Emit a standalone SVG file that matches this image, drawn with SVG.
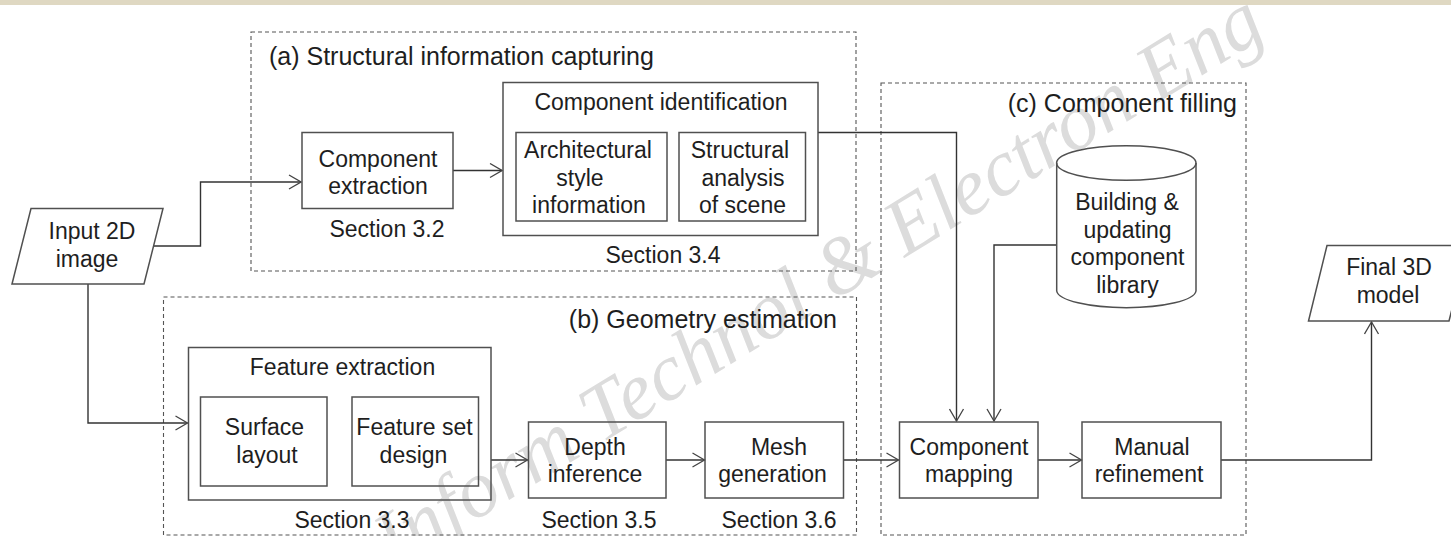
<svg xmlns="http://www.w3.org/2000/svg" width="1451" height="536" viewBox="0 0 1451 536">
<style>
text{font-family:"Liberation Sans",Arial,sans-serif;fill:#1e1e1e}
.t{font-size:23px;text-anchor:middle}
.ttl{font-size:25px}
.box{fill:none;stroke:#505050;stroke-width:1.5}
.grp{fill:none;stroke:#555;stroke-width:1.1;stroke-dasharray:4 3}
.con{fill:none;stroke:#333;stroke-width:1.4}
.wm{font-family:"Liberation Serif","Times New Roman",serif;font-style:italic;font-size:81px;fill:#dcdcdc}
</style>
<defs>
<marker id="arr" markerUnits="userSpaceOnUse" viewBox="0 0 14 16" refX="13" refY="8" markerWidth="14" markerHeight="16" orient="auto">
<path d="M1,1 L13,8 L1,15" fill="none" stroke="#444" stroke-width="1.3"/>
</marker>
</defs>
<rect x="0" y="0" width="1451" height="536" fill="#fff"/>
<rect x="0" y="0" width="1451" height="5" fill="#dfd8c2"/>
<text class="wm" transform="translate(395,570) rotate(-31.5)">Inform Technol &amp; Electron Eng</text>

<g id="group-a">
<rect class="grp" x="251" y="32" width="605" height="239"/>
<text class="ttl" x="269" y="64.5">(a) Structural information capturing</text>
</g>
<g id="group-b">
<rect class="grp" x="163.5" y="297" width="693" height="238"/>
<text class="ttl" x="837" y="328" text-anchor="end">(b) Geometry estimation</text>
</g>
<g id="group-c">
<rect class="grp" x="881" y="83" width="365" height="452"/>
<text class="ttl" x="1237" y="111.5" text-anchor="end">(c) Component filling</text>
</g>

<g id="connectors">
<path class="con" d="M153,246 H200.5 V182 H301" marker-end="url(#arr)"/>
<path class="con" d="M88,284 V423 H187.5" marker-end="url(#arr)"/>
<path class="con" d="M453,170.5 H502" marker-end="url(#arr)"/>
<path class="con" d="M818,132.5 H956.5 V421" marker-end="url(#arr)"/>
<path class="con" d="M491,460 H527.5" marker-end="url(#arr)"/>
<path class="con" d="M666,460 H704.5" marker-end="url(#arr)"/>
<path class="con" d="M843,460 H898.5" marker-end="url(#arr)"/>
<path class="con" d="M1057,245 H994 V421" marker-end="url(#arr)"/>
<path class="con" d="M1038,460 H1081.5" marker-end="url(#arr)"/>
<path class="con" d="M1221,460 H1371.5 V322" marker-end="url(#arr)"/>
</g>

<g id="input-2d-image">
<polygon class="box" points="31,208.5 163,208.5 144,284 12,284"/>
<text class="t" x="92" y="239">Input 2D</text>
<text class="t" x="87" y="266.5">image</text>
</g>

<g id="component-extraction">
<rect class="box" x="302" y="132.5" width="151" height="76"/>
<text class="t" x="378" y="166.5">Component</text>
<text class="t" x="378" y="194">extraction</text>
<text class="t" x="387" y="237">Section 3.2</text>
</g>

<g id="component-identification">
<rect class="box" x="503" y="82.5" width="315" height="153"/>
<text class="t" x="661" y="110">Component identification</text>
<text class="t" x="663" y="263">Section 3.4</text>
</g>
<g id="architectural-style-information">
<rect class="box" x="516" y="132.5" width="151" height="88.5"/>
<text class="t" x="588" y="158.3">Architectural</text>
<text class="t" x="580" y="186">style</text>
<text class="t" x="589" y="213.3">information</text>
</g>
<g id="structural-analysis-of-scene">
<rect class="box" x="679" y="132.5" width="126.5" height="88.5"/>
<text class="t" x="740" y="158.3">Structural</text>
<text class="t" x="743" y="186">analysis</text>
<text class="t" x="742.5" y="213.3">of scene</text>
</g>

<g id="feature-extraction">
<rect class="box" x="188.5" y="347.5" width="302.5" height="152.5"/>
<text class="t" x="342.5" y="375">Feature extraction</text>
<text class="t" x="352" y="528">Section 3.3</text>
</g>
<g id="surface-layout">
<rect class="box" x="200.5" y="397" width="126.5" height="89"/>
<text class="t" x="264.5" y="435">Surface</text>
<text class="t" x="267" y="462.5">layout</text>
</g>
<g id="feature-set-design">
<rect class="box" x="352" y="397" width="126.5" height="89"/>
<text class="t" x="414.5" y="435">Feature set</text>
<text class="t" x="413.5" y="462.5">design</text>
</g>

<g id="depth-inference">
<rect class="box" x="528.5" y="422" width="137.5" height="76"/>
<text class="t" x="595" y="454.5">Depth</text>
<text class="t" x="595" y="481.7">inference</text>
<text class="t" x="599" y="528">Section 3.5</text>
</g>

<g id="mesh-generation">
<rect class="box" x="705" y="422" width="138.5" height="76"/>
<text class="t" x="779" y="454.5">Mesh</text>
<text class="t" x="772.5" y="481.7">generation</text>
<text class="t" x="779" y="528">Section 3.6</text>
</g>

<g id="component-library">
<path class="box" d="M1056.7,163 V291 A69.7,17.3 0 0 0 1196,291 V163"/>
<ellipse class="box" cx="1126.3" cy="163" rx="69.7" ry="17.3"/>
<text class="t" x="1127" y="210">Building &amp;</text>
<text class="t" x="1127.5" y="237.7">updating</text>
<text class="t" x="1127.5" y="265">component</text>
<text class="t" x="1127.5" y="292.5">library</text>
</g>

<g id="component-mapping">
<rect class="box" x="899.5" y="422" width="138.5" height="76"/>
<text class="t" x="969" y="454.5">Component</text>
<text class="t" x="969" y="481.7">mapping</text>
</g>

<g id="manual-refinement">
<rect class="box" x="1082" y="422" width="139" height="76"/>
<text class="t" x="1152" y="454.5">Manual</text>
<text class="t" x="1149" y="481.7">refinement</text>
</g>

<g id="final-3d-model">
<polygon class="box" points="1327,245.5 1468,245.5 1449,321 1308.5,321"/>
<text class="t" x="1389" y="275">Final 3D</text>
<text class="t" x="1388" y="303.3">model</text>
</g>
</svg>
